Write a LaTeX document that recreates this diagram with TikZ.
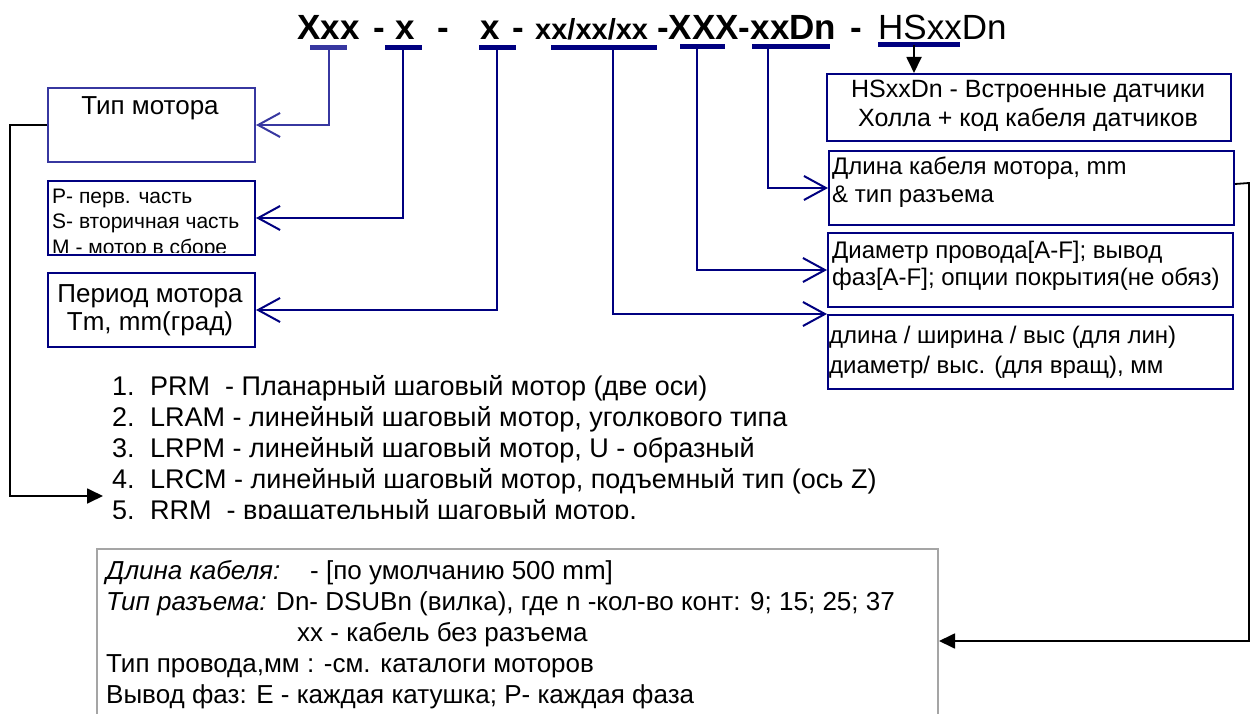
\documentclass[tikz,border=0pt]{standalone}
\usepackage{fontspec}
\setmainfont{Liberation Sans}
\usetikzlibrary{arrows.meta,calc}
\definecolor{navy}{RGB}{0,0,128}
\definecolor{navyl}{RGB}{55,55,160}
\definecolor{boxgray}{RGB}{165,165,165}
\begin{document}
\begin{tikzpicture}[x=1pt,y=-1pt,
  txt/.style={inner sep=0pt, anchor=base west},
  ctxt/.style={inner sep=0pt, anchor=base},
  bigb/.style={txt, font=\fontsize{35}{40}\selectfont\bfseries},
  midb/.style={txt, font=\fontsize{29}{34}\selectfont\bfseries},
  bigr/.style={txt, font=\fontsize{35}{40}\selectfont},
  lbl/.style={font=\fontsize{26}{31}\selectfont},
  lst/.style={font=\fontsize{27}{31}\selectfont},
  small/.style={font=\fontsize{21}{25}\selectfont},
  rlbl/.style={font=\fontsize{24}{28}\selectfont},
  bluebox/.style={draw=navy, line width=2pt, anchor=north west, inner sep=0pt},
  graybox/.style={draw=boxgray, line width=2pt, anchor=north west, inner sep=0pt},
  bar/.style={draw=navy, line width=5pt},
  conn/.style={draw=navy, line width=2.2pt, -{Straight Barb[length=22pt,width=24pt,line width=2pt]}},
  bconn/.style={draw=black, line width=1.8pt, -{Triangle[length=16pt,width=15pt]}},
]
\useasboundingbox (0,0) rectangle (1255,714);

% ---------- title ----------
\node[bigb] (t1) at (297,40) {Xxx};
\node[bigb] (t2) at (373,40) {-};
\node[bigb] (t3) at (395,40) {x};
\node[bigb] (t4) at (437,40) {-};
\node[bigb] (t5) at (480,40) {x};
\node[bigb] (t6) at (512,40) {-};
\node[midb] (t7) at (535,40) {xx/xx/xx};
\node[bigb] (t8) at (657,40) {-XXX-xxDn};
\node[bigb] (t9) at (850,40) {-};
\node[bigr] (t10) at (878,40) {HSxxDn};

% ---------- underline bars ----------
\draw[bar, draw=navyl] (310,48) -- (347,48);
\draw[bar] (385,48) -- (422,48);
\draw[bar] (479,48) -- (516,48);
\draw[bar] (551,48) -- (657,48);
\draw[bar] (680,47) -- (725,47);
\draw[bar] (752,47) -- (830,47);
\draw[bar] (878,45) -- (960,45);
\coordinate (u1) at (329,48);
\coordinate (u2) at (403,48);
\coordinate (u3) at (497,48);
\coordinate (u4) at (613,48);
\coordinate (u5) at (697,47);
\coordinate (u6) at (768,47);
\coordinate (u7) at (914,45);

% ---------- left boxes ----------
\node[bluebox, draw=navyl, minimum width=207pt, minimum height=74pt] (tip) at (47,87) {};
\node[ctxt, lbl] (tiptxt) at (150,115) {Тип мотора};

\node[bluebox, minimum width=207pt, minimum height=74pt] (part) at (47,180) {};
\begin{scope}
\clip (48,181) rectangle (253,252.5);
\node[txt, small] (p1) at (52,204) {P- перв. часть};
\node[txt, small] (p2) at (52,229) {S- вторичная часть};
\node[txt, small] (p3) at (52,254.5) {M - мотор в сборе};
\end{scope}

\node[bluebox, minimum width=207pt, minimum height=74pt] (per) at (47,272) {};
\node[ctxt, lbl] (per1) at (150,302) {Период мотора};
\node[ctxt, lbl] (per2) at (150,330) {Tm, mm(град)};

% ---------- right boxes ----------
\node[bluebox, minimum width=404pt, minimum height=67pt] (hs) at (826,73) {};
\node[ctxt, font=\fontsize{25}{29}\selectfont] (hs1) at (1028,98) {HSxxDn - Встроенные датчики};
\node[ctxt, font=\fontsize{25}{29}\selectfont] (hs2) at (1028,127) {Холла + код кабеля датчиков};

\node[bluebox, minimum width=405pt, minimum height=74pt] (cab) at (828,150) {};
\node[txt, rlbl] (cab1) at (832,175) {Длина кабеля мотора, mm};
\node[txt, rlbl] (cab2) at (832,203) {\& тип разъема};

\node[bluebox, minimum width=405pt, minimum height=74pt] (dia) at (827,232) {};
\node[txt, rlbl] (dia1) at (832,258) {Диаметр провода[A-F]; вывод};
\node[txt, rlbl] (dia2) at (832,285) {фаз[A-F]; опции покрытия(не обяз)};

\node[bluebox, minimum width=405pt, minimum height=74pt] (dim) at (827,314) {};
\node[txt, rlbl] (dim1) at (829,343) {длина / ширина / выс (для лин)};
\node[txt, rlbl] (dim2) at (829,373) {диаметр/ выс. (для вращ), мм};

% ---------- blue connectors ----------
\draw[conn, draw=navyl] (u1) |- (tip.east);
\draw[conn] (u2) |- (part.east);
\draw[conn] (u3) |- (per.east);
\draw[conn] (u4) |- (dim.north west);
\draw[conn] (u5) |- (dia.west);
\draw[conn] (u6) |- (cab.west);
\draw[bconn] (u7) -- (u7 |- hs.north);

% ---------- list ----------
\begin{scope}
\clip (0,360) rectangle (1255,518);
\foreach \i/\n/\t/\y in {1/1./PRM~~- Планарный шаговый мотор (две оси)/395,
  2/2./LRAM - линейный шаговый мотор{,} уголкового типа/426,
  3/3./LRPM - линейный шаговый мотор{,} U - образный/457,
  4/4./LRCM - линейный шаговый мотор{,} подъемный тип (ось Z)/488,
  5/5./RRM~~- вращательный шаговый мотор{,}/519}{
  \node[txt, lst] (ln\i) at (112,\y) {\n};
  \node[txt, lst] (lt\i) at (150,\y) {\t};
}
\end{scope}
\coordinate (a5) at (103,496);
\draw[bconn] (tip.west) -| (10,496) -- (a5);

% ---------- bottom box ----------
\node[graybox, minimum width=841pt, minimum height=184pt] (bot) at (96,548) {};
\node[txt, lbl] (b1) at (106,579) {\textit{Длина кабеля:}};
\node[txt, lbl] (b1b) at (310,579) {- [по умолчанию 500 mm]};
\node[txt, lbl] (b2) at (106,610) {\textit{Тип разъема:} Dn- DSUBn (вилка), где n -кол-во конт: 9; 15; 25; 37};
\node[txt, lbl] (b3) at (297,641) {xx - кабель без разъема};
\node[txt, lbl] (b4) at (106,672) {Тип провода,мм : -см. каталоги моторов};
\node[txt, lbl] (b5) at (106,703) {Вывод фаз: E - каждая катушка; P- каждая фаза};

\coordinate (c1) at (1249,183);
\draw[bconn] ($(cab.east)+(0,-4)$) -- (c1) |- (bot.east);
\end{tikzpicture}
\end{document}
